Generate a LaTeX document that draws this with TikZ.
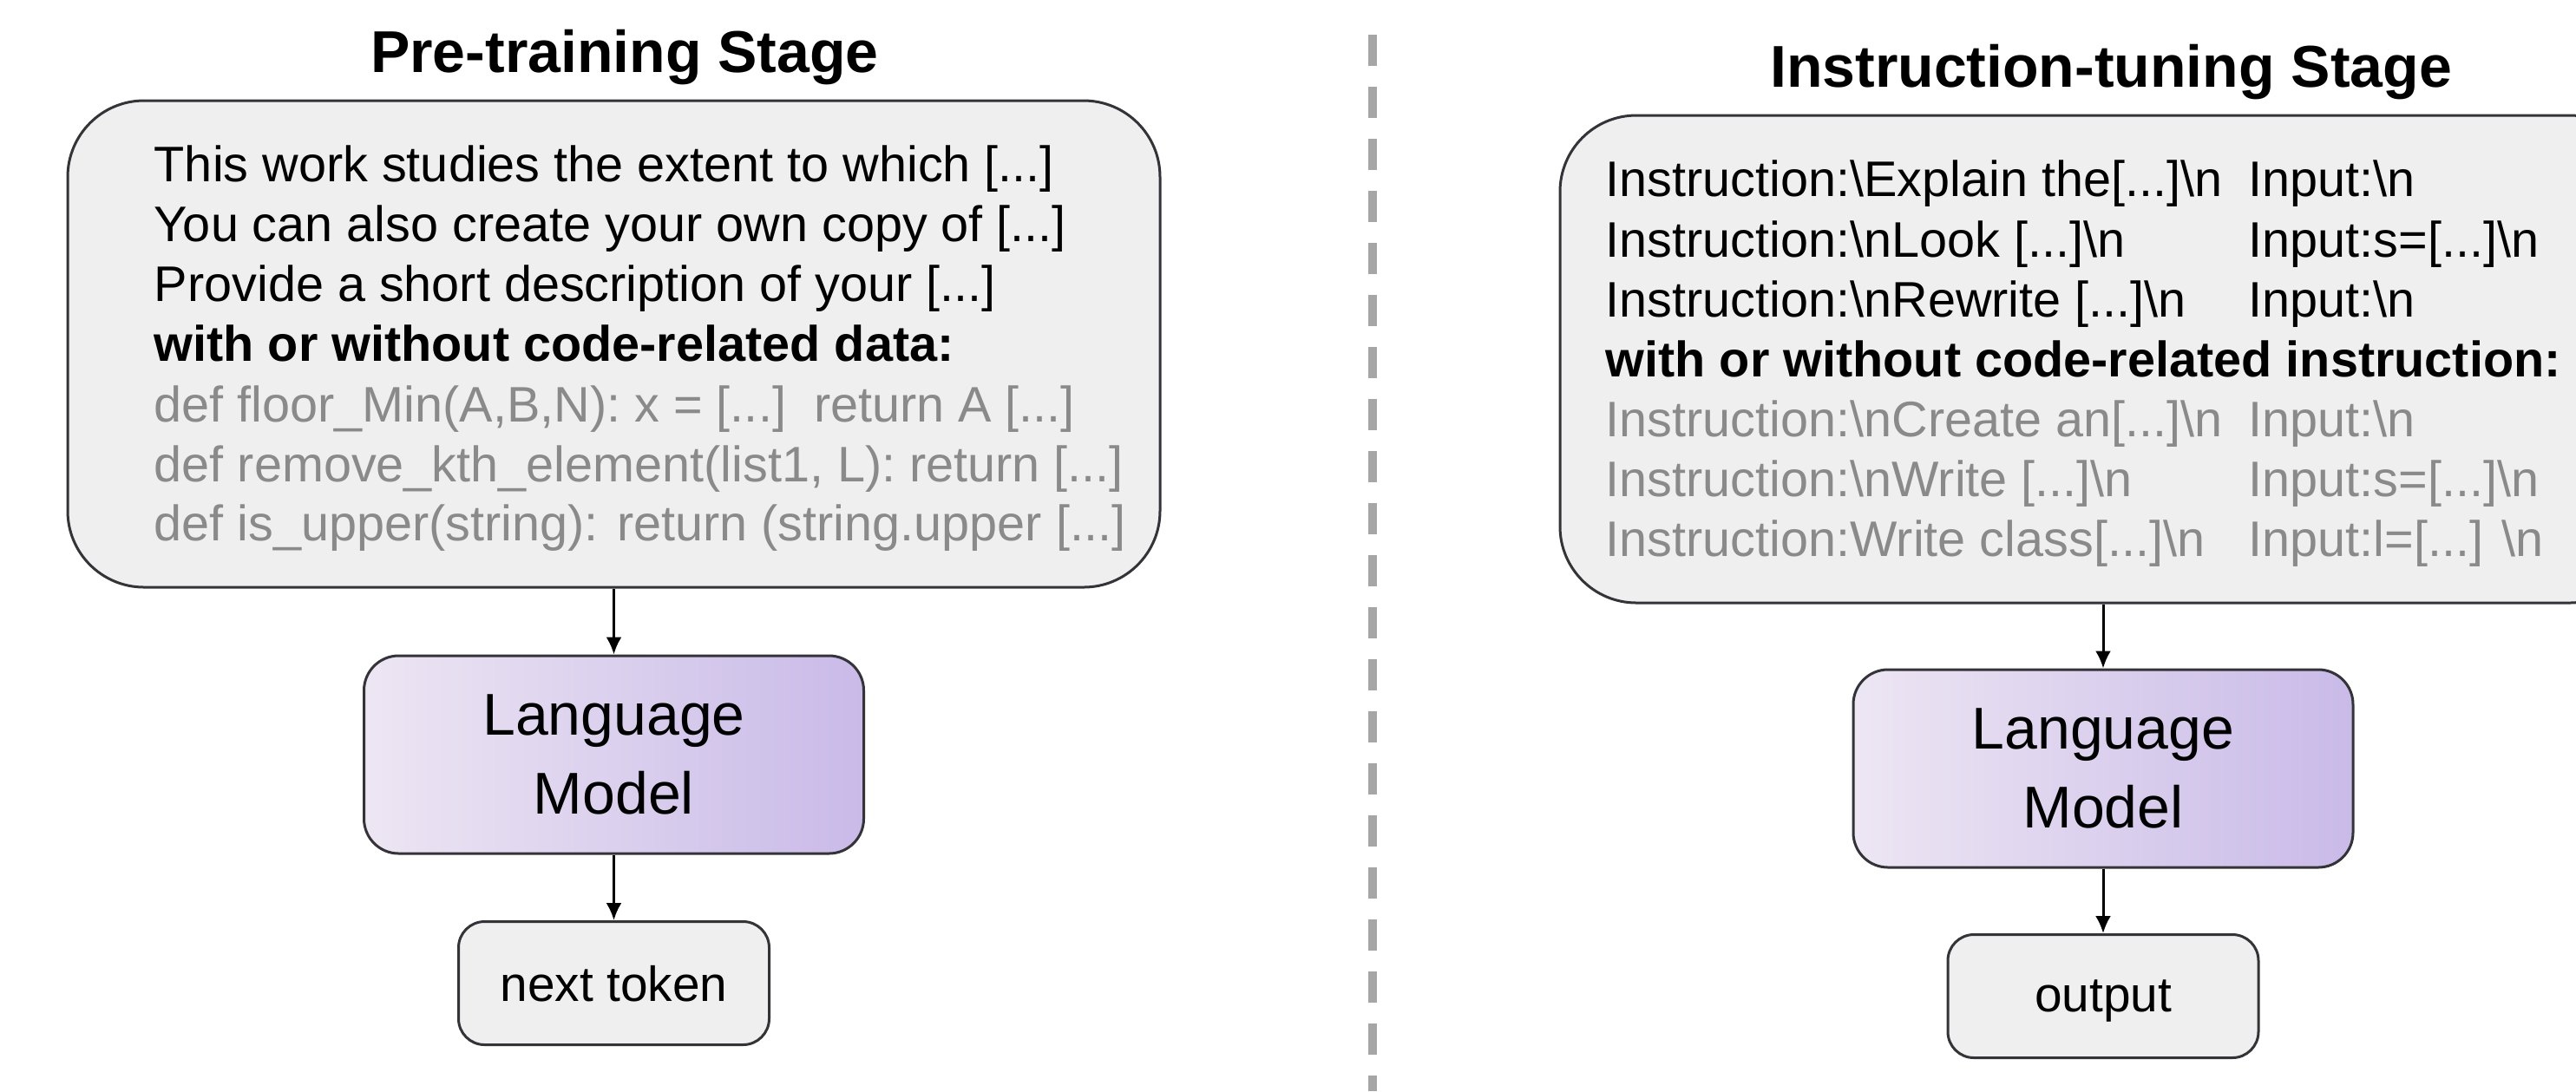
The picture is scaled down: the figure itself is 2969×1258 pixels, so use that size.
\documentclass[tikz,border=0pt]{standalone}
\usepackage{fontspec}
\setmainfont{Liberation Sans}
\usetikzlibrary{arrows.meta}
\definecolor{boxfill}{HTML}{EFEFEF}
\definecolor{boxline}{HTML}{333338}
\definecolor{graytext}{HTML}{8A8A8A}
\definecolor{lmleft}{HTML}{EDE6F3}
\definecolor{lmright}{HTML}{C9BAE8}
\definecolor{sepcol}{HTML}{A6A6A6}
\begin{document}
\begin{tikzpicture}[x=0.25pt,y=-0.25pt,
  bigbox/.style={draw=boxline, fill=boxfill, line width=0.75pt, rounded corners=22pt, inner sep=0pt},
  lmbox/.style={draw=boxline, left color=lmleft, right color=lmright, line width=0.75pt, rounded corners=10pt, minimum width=144pt, minimum height=57pt, align=center, font=\fontsize{17}{22.75}\selectfont, inner sep=0pt},
  outbox/.style={draw=boxline, fill=boxfill, line width=0.75pt, rounded corners=7.5pt, minimum width=89.5pt, minimum height=35.5pt, text depth=0pt, font=\fontsize{14.2}{17}\selectfont, inner sep=0pt},
  txtline/.style={anchor=base west, inner sep=0pt, font=\fontsize{14.4}{17}\selectfont},
  codeline/.style={txtline, text=graytext},
  boldline/.style={txtline, font=\fontsize{14.4}{17}\selectfont\bfseries},
  stagetitle/.style={anchor=base, inner sep=0pt, font=\fontsize{17}{20}\selectfont\bfseries},
  conn/.style={draw=black, line width=0.75pt, -{Latex[length=5pt,width=4.5pt]}}
]
\path[use as bounding box] (0,0) rectangle (2969,1258);

% separator
\coordinate (septop) at (1582,40);
\coordinate (sepbot) at (1582,1258);
\draw[sepcol, line width=2.5pt, dash pattern=on 9pt off 6pt] (septop) -- (sepbot);

% titles
\node[stagetitle] (ltitle) at (720,83) {Pre-training Stage};
\node[stagetitle] (rtitle) at (2433,100) {Instruction-tuning Stage};

% left big box
\node[bigbox, minimum width=314.75pt, minimum height=140.25pt] (lbox) at (707.5,396.5) {};
\node[txtline] (l1) at (177,209) {This work studies the extent to which [...]};
\node[txtline] (l2) at (177,278) {You can also create your own copy of [...]};
\node[txtline] (l3) at (177,347) {Provide a short description of your [...]};
\node[boldline] (l4) at (177,416) {with or without code-related data:};
\node[codeline] (l5) at (177,486) {def floor\_Min(A,B,N): x = [...]\ \ return A [...]};
\node[codeline] (l6) at (177,555) {def remove\_kth\_element(list1, L): return [...]};
\node[codeline] (l7) at (177,623) {def is\_upper(string): return (string.upper [...]};

% left model + output
\node[lmbox] (llm) at (707.5,870) {Language\\Model};
\node[outbox] (lout) at (707.5,1133.5) {next token};
\draw[conn] (lbox.south) -- (llm.north);
\draw[conn] (llm.south) -- (lout.north);

% right big box
\node[bigbox, minimum width=313pt, minimum height=140.5pt] (rbox) at (2424,414) {};
\node[txtline] (r1) at (1850,226) {Instruction:\textbackslash Explain the[...]\textbackslash n};
\node[txtline] (r2) at (1850,296) {Instruction:\textbackslash nLook [...]\textbackslash n};
\node[txtline] (r3) at (1850,365) {Instruction:\textbackslash nRewrite [...]\textbackslash n};
\node[boldline] (r4) at (1850,434) {with or without code-related instruction:};
\node[codeline] (r5) at (1850,503) {Instruction:\textbackslash nCreate an[...]\textbackslash n};
\node[codeline] (r6) at (1850,572) {Instruction:\textbackslash nWrite [...]\textbackslash n};
\node[codeline] (r7) at (1850,641) {Instruction:Write class[...]\textbackslash n};
\node[txtline] (i1) at (2591,226) {Input:\textbackslash n};
\node[txtline] (i2) at (2591,296) {Input:s=[...]\textbackslash n};
\node[txtline] (i3) at (2591,365) {Input:\textbackslash n};
\node[codeline] (i5) at (2591,503) {Input:\textbackslash n};
\node[codeline] (i6) at (2591,572) {Input:s=[...]\textbackslash n};
\node[codeline] (i7) at (2591,641) {Input:l=[...] \textbackslash n};

% right model + output
\node[lmbox] (rlm) at (2424,886) {Language\\Model};
\node[outbox] (rout) at (2424,1148.5) {output};
\draw[conn] (rbox.south) -- (rlm.north);
\draw[conn] (rlm.south) -- (rout.north);
\end{tikzpicture}
\end{document}
